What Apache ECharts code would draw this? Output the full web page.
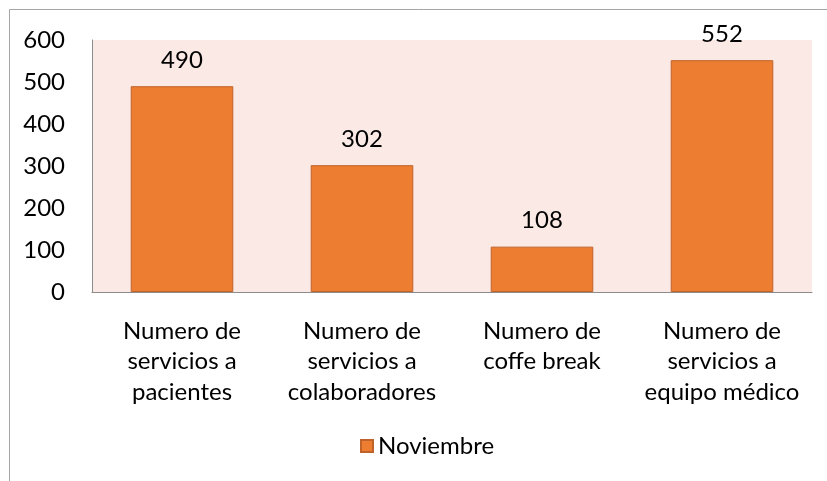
<!DOCTYPE html>
<html>
<head>
<meta charset="utf-8">
<script src="https://cdn.jsdelivr.net/npm/echarts@6/dist/echarts.min.js"></script>
<style>
  html, body { margin: 0; padding: 0; background: #fff; }
  #chart { width: 827px; height: 481px; }
</style>
</head>
<body>
<div id="chart"></div>
<script>
// datos del gráfico
const categories = [
  'Numero de\nservicios a\npacientes',
  'Numero de\nservicios a\ncolaboradores',
  'Numero de\ncoffe break',
  'Numero de\nservicios a\nequipo médico'
];
const seriesName = 'Noviembre';
const values = [490, 302, 108, 552];
const yTicks = [0, 100, 200, 300, 400, 500, 600];

const font = 'Lato, "Open Sans", sans-serif';
const myChart = echarts.init(document.getElementById('chart'));

const options = {
  animation: false,
  backgroundColor: '#ffffff',
  graphic: [
    {
      type: 'rect',
      shape: { x: 9.5, y: 9.5, width: 900, height: 600 },
      style: { fill: 'none', stroke: '#a6a6a6', lineWidth: 1 },
      silent: true
    }
  ],
  grid: {
    left: 92,
    right: 15,
    top: 40,
    bottom: 189,
    show: true,
    backgroundColor: '#fbe9e5',
    borderWidth: 0
  },
  legend: {
    top: 429,
    left: 355,
    itemWidth: 12,
    itemHeight: 12,
    icon: 'rect',
    textStyle: { fontFamily: font, fontSize: 24, color: '#000' },
    data: [seriesName]
  },
  xAxis: {
    type: 'category',
    data: categories,
    axisLine: { lineStyle: { color: '#8c8c8c' } },
    axisTick: { show: false },
    axisLabel: {
      interval: 0,
      margin: 24,
      lineHeight: 30.5,
      fontFamily: font,
      fontSize: 24,
      color: '#000'
    }
  },
  yAxis: {
    type: 'value',
    min: yTicks[0],
    max: yTicks[yTicks.length - 1],
    interval: 100,
    axisLine: { show: true, lineStyle: { color: '#8c8c8c' } },
    axisTick: { show: false },
    splitLine: { show: false },
    axisLabel: {
      margin: 27,
      fontFamily: font,
      fontSize: 24,
      color: '#000'
    }
  },
  series: [
    {
      name: seriesName,
      type: 'bar',
      data: values,
      barWidth: '57%',
      itemStyle: {
        color: '#ed7d31',
        borderColor: '#c0632a',
        borderWidth: 1
      },
      label: {
        show: true,
        position: 'top',
        distance: 14,
        fontFamily: font,
        fontSize: 24,
        color: '#000'
      }
    }
  ]
};

myChart.setOption(options);
</script>
</body>
</html>
